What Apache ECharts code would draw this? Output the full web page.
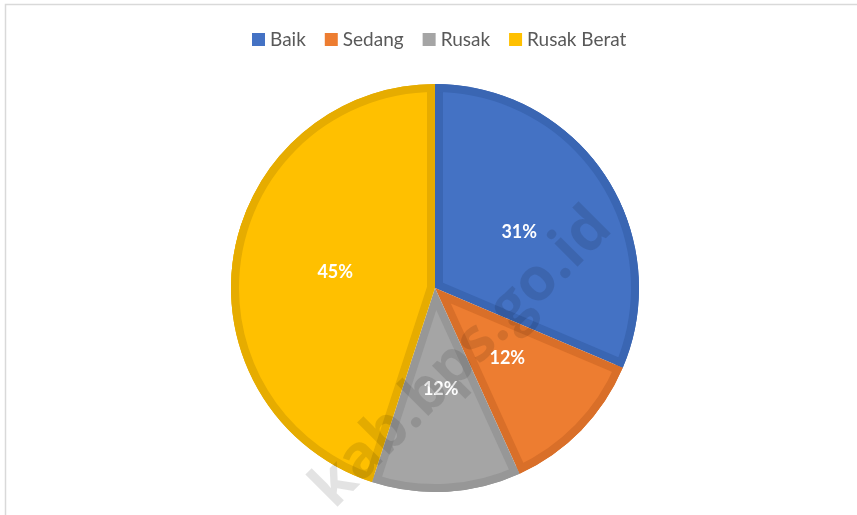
<!DOCTYPE html>
<html>
<head>
<meta charset="utf-8">
<script src="https://cdn.jsdelivr.net/npm/echarts@6/dist/echarts.min.js"></script>
<style>
  html, body { margin: 0; padding: 0; background: #fff; }
  #chart { width: 857px; height: 515px; }
</style>
</head>
<body>
<div id="chart"></div>
<script>
// kondisi jalan (persen)
var categories = ['Baik', 'Sedang', 'Rusak', 'Rusak Berat'];
var values = [31.4, 11.8, 11.8, 45.0];
var fillColors = ['#4472C4', '#ED7D31', '#A5A5A5', '#FFC000'];
var edgeColors = ['#3A66B3', '#D96F29', '#979797', '#E6AC00'];

var CX = 435, CY = 288, R = 204, EDGE = 8;

function makeData(colors, only) {
  return categories.map(function (name, i) {
    var c = (only === undefined || only === i) ? colors[i] : 'transparent';
    return { name: name, value: values[i], itemStyle: { color: c } };
  });
}

// garis tepi dalam ala excel: tiap irisan digeser sedikit ke arah tengahnya
var total = values.reduce(function (a, b) { return a + b; }, 0);
var fillSeries = [];
var acc = 0;
values.forEach(function (v, i) {
  var f0 = acc / total, f1 = (acc + v) / total;
  acc += v;
  var half = Math.PI * (f1 - f0);
  var mid = Math.PI * (f0 + f1);
  var s = EDGE / Math.sin(half);
  fillSeries.push({
    type: 'pie',
    silent: true,
    z: 2,
    center: [CX + s * Math.sin(mid), CY - s * Math.cos(mid)],
    radius: [0, R - s],
    startAngle: 90,
    label: { show: false },
    labelLine: { show: false },
    emphasis: { disabled: true },
    data: makeData(fillColors, i)
  });
});

var myChart = echarts.init(document.getElementById('chart'));
myChart.setOption({
  animation: false,
  legend: {
    top: 25,
    left: 247,
    icon: 'rect',
    itemWidth: 13,
    itemHeight: 13,
    itemGap: 19,
    textStyle: { color: '#595959', fontSize: 19, fontFamily: 'Lato' },
    data: categories.map(function (name, i) {
      return { name: name, itemStyle: { color: fillColors[i] } };
    })
  },
  graphic: [
    {
      type: 'rect',
      shape: { x: 5.5, y: 4.5, width: 900, height: 600 },
      style: { fill: 'none', stroke: '#d9d9d9', lineWidth: 1.5 },
      silent: true
    },
    {
      type: 'text',
      x: 462, y: 358,
      rotation: Math.PI / 4,
      z: 100,
      style: {
        text: 'kab.bps.go.id',
        fill: 'rgba(0,0,0,0.11)',
        font: 'bold 60px "Open Sans"',
        align: 'center',
        verticalAlign: 'middle'
      },
      silent: true
    }
  ],
  series: [
    {
      name: 'tepi',
      type: 'pie',
      silent: true,
      z: 1,
      center: [CX, CY],
      radius: [0, R],
      startAngle: 90,
      label: { show: false },
      labelLine: { show: false },
      emphasis: { disabled: true },
      data: makeData(edgeColors)
    }
  ].concat(fillSeries).concat([
    {
      name: 'cincin',
      type: 'pie',
      silent: true,
      z: 3,
      center: [CX, CY],
      radius: [R - EDGE, R],
      startAngle: 90,
      label: { show: false },
      labelLine: { show: false },
      emphasis: { disabled: true },
      data: makeData(edgeColors)
    },
    {
      name: 'label',
      type: 'pie',
      silent: true,
      z: 4,
      center: [CX, CY],
      radius: [0, 196],
      startAngle: 90,
      label: {
        show: true,
        position: 'inside',
        color: '#fff',
        fontSize: 18,
        fontWeight: 'bold',
        fontFamily: 'Lato',
        formatter: function (p) { return Math.round(p.percent) + '%'; }
      },
      labelLine: { show: false },
      emphasis: { disabled: true },
      itemStyle: { color: 'transparent' },
      data: values.map(function (v, i) { return { name: categories[i], value: v }; })
    }
  ])
});
</script>
</body>
</html>
